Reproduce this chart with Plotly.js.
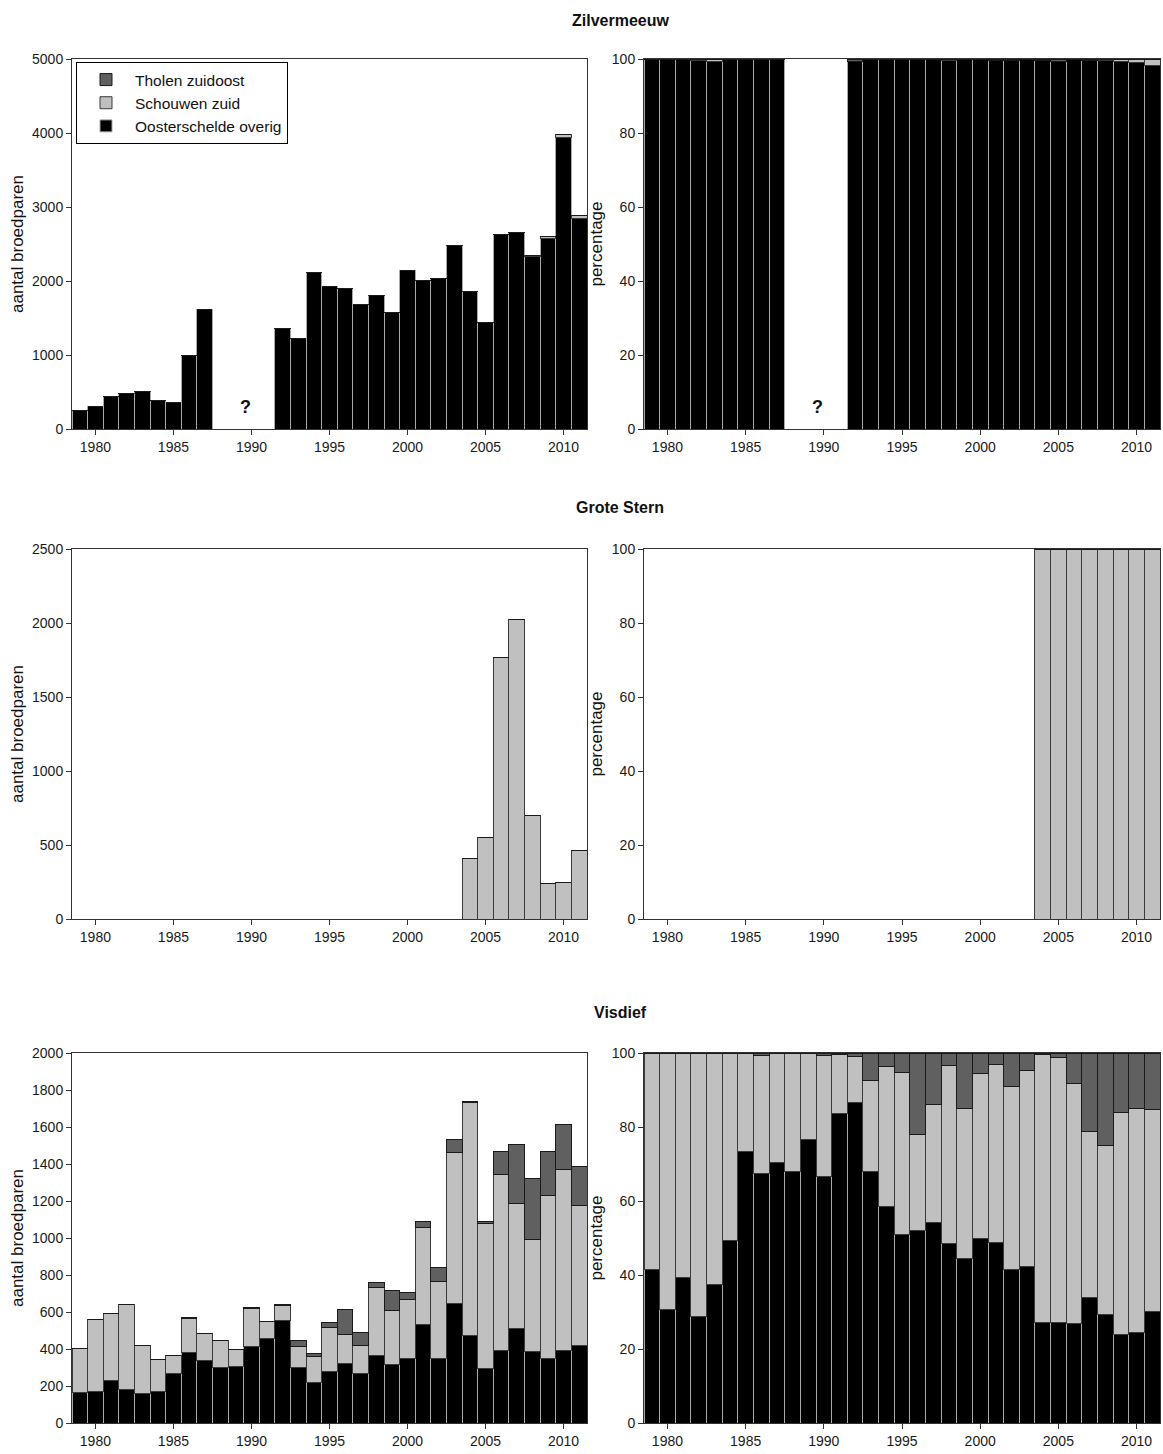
<!DOCTYPE html>
<html>
<head>
<meta charset="utf-8">
<script src="https://cdn.plot.ly/plotly-3.0.1.min.js"></script>
<style>html,body{margin:0;padding:0;background:#fff;}#chart{width:1163px;height:1454px;}</style>
</head>
<body>
<div id="chart"></div>
<script>
// ---------- data ----------
const years = [1979,1980,1981,1982,1983,1984,1985,1986,1987,1988,1989,1990,1991,1992,1993,1994,1995,1996,1997,1998,1999,2000,2001,2002,2003,2004,2005,2006,2007,2008,2009,2010,2011];
const seriesNames = ["Oosterschelde overig", "Schouwen zuid", "Tholen zuidoost"];
const speciesTitles = ["Zilvermeeuw", "Grote Stern", "Visdief"];
const xTickVals = [1980,1985,1990,1995,2000,2005,2010];

// Zilvermeeuw (1988-1991 unknown)
const zilOost   = [250,310,440,475,505,380,360,995,1610,null,null,null,null,1355,1220,2120,1925,1900,1685,1800,1575,2140,2005,2030,2480,1855,1435,2625,2650,2335,2575,3940,2840];
const zilSchouw = [0,0,0,2,3,1,0,0,0,null,null,null,null,0,0,0,0,0,0,8,0,0,0,0,6,0,0,0,0,10,20,35,50];
const zilTholen = [0,0,0,0,0,0,0,0,0,null,null,null,null,8,0,0,0,0,0,0,0,0,8,8,0,6,8,0,8,0,0,0,0];

// Grote Stern
const gsOost   = [0,0,0,0,0,0,0,0,0,0,0,0,0,0,0,0,0,0,0,0,0,0,0,0,0,0,0,0,0,0,0,0,0];
const gsSchouw = [0,0,0,0,0,0,0,0,0,0,0,0,0,0,0,0,0,0,0,0,0,0,0,0,0,410,550,1770,2025,700,240,250,460];
const gsTholen = [0,0,0,0,0,0,0,0,0,0,0,0,0,0,0,0,0,0,0,0,0,0,0,0,0,0,0,0,0,0,0,0,0];

// Visdief
const vdOost   = [167,172,232,183,157,170,266,383,340,302,307,415,458,555,302,220,276,320,265,367,318,350,533,350,647,474,296,393,512,388,350,393,419];
const vdSchouw = [236,390,358,455,262,174,97,182,142,142,93,203,88,80,110,142,239,158,155,365,288,315,522,416,813,1260,780,950,674,602,882,978,756];
const vdTholen = [0,0,0,0,0,0,0,4,0,0,0,5,2,6,33,14,28,136,68,26,108,38,35,75,72,6,14,122,318,330,238,240,213];

// ---------- styling ----------
const fills = ["#000000", "#c0c0c0", "#606060"];
const outlines = ["#a8a8a8", "#3a3a3a", "#1a1a1a"];
const FONT = "Liberation Sans, Arial, sans-serif";
const W = 1163, H = 1454;
const colsPx = [[72, 587], [644, 1160]];
const rowsPx = [[59, 429], [549, 919], [1053, 1423]];
const yMaxLeft = [5000, 2500, 2000];
const yDtickLeft = [1000, 500, 200];

function pctOf(arrs, s) {
  return arrs[s].map((v, i) => {
    const t = (arrs[0][i] || 0) + (arrs[1][i] || 0) + (arrs[2][i] || 0);
    return t > 0 ? v / t * 100 : null;
  });
}

const speciesData = [
  [zilOost, zilSchouw, zilTholen],
  [gsOost, gsSchouw, gsTholen],
  [vdOost, vdSchouw, vdTholen]
];

const traces = [];
const layout = {
  width: W, height: H,
  margin: {l: 0, r: 0, t: 0, b: 0},
  paper_bgcolor: "#fff", plot_bgcolor: "#fff",
  barmode: "stack", bargap: 0,
  font: {family: FONT, color: "#222"},
  showlegend: true,
  legend: {
    x: 76 / W, y: 1 - 62 / H, xanchor: "left", yanchor: "top",
    bordercolor: "#000", borderwidth: 1, bgcolor: "#fff",
    font: {family: FONT, size: 15.5, color: "#111"},
    traceorder: "reversed", tracegroupgap: 0, itemwidth: 48
  },
  annotations: [],
  hovermode: false
};

speciesData.forEach((arrs, r) => {
  for (let c = 0; c < 2; c++) {
    const idx = r * 2 + c + 1;
    const xa = idx === 1 ? "x" : "x" + idx;
    const ya = idx === 1 ? "y" : "y" + idx;
    for (let s = 0; s < 3; s++) {
      traces.push({
        type: "bar",
        x: years,
        y: c === 0 ? arrs[s] : pctOf(arrs, s),
        width: 1,
        xaxis: xa, yaxis: ya,
        name: seriesNames[s],
        showlegend: idx === 1,
        marker: {color: fills[s], line: {color: outlines[s], width: 1}}
      });
    }
    const xKey = idx === 1 ? "xaxis" : "xaxis" + idx;
    const yKey = idx === 1 ? "yaxis" : "yaxis" + idx;
    layout[xKey] = {
      domain: [colsPx[c][0] / W, colsPx[c][1] / W],
      anchor: ya,
      range: [1978.5, 2011.5],
      tickmode: "array", tickvals: xTickVals,
      ticks: "outside", ticklen: 5, tickwidth: 1, tickcolor: "#333",
      showline: true, linecolor: "#333", linewidth: 1, mirror: true,
      showgrid: false, zeroline: false,
      tickfont: {family: FONT, size: 14, color: "#1a1a1a"}
    };
    layout[yKey] = {
      domain: [1 - rowsPx[r][1] / H, 1 - rowsPx[r][0] / H],
      anchor: xa,
      range: c === 0 ? [0, yMaxLeft[r]] : [0, 100],
      dtick: c === 0 ? yDtickLeft[r] : 20,
      tick0: 0,
      ticks: "outside", ticklen: 5, tickwidth: 1, tickcolor: "#333",
      showline: true, linecolor: "#333", linewidth: 1, mirror: true,
      showgrid: false, zeroline: false,
      tickfont: {family: FONT, size: 14, color: "#1a1a1a"},
      title: {text: c === 0 ? "aantal broedparen" : "percentage",
              font: {family: FONT, size: 17, color: "#111"}, standoff: 4}
    };
  }
  layout.annotations.push({
    text: "<b>" + speciesTitles[r] + "</b>",
    xref: "paper", yref: "paper",
    x: 620 / W, y: 1 - [20, 508, 1012][r] / H,
    xanchor: "center", yanchor: "middle", showarrow: false,
    font: {family: FONT, size: 16, color: "#111"}
  });
});

// unknown years marker
layout.annotations.push({text: "<b>?</b>", xref: "x", yref: "y", x: 1989.6, y: 300, showarrow: false,
  font: {family: FONT, size: 18, color: "#111"}});
layout.annotations.push({text: "<b>?</b>", xref: "x2", yref: "y2", x: 1989.6, y: 6, showarrow: false,
  font: {family: FONT, size: 18, color: "#111"}});

Plotly.newPlot("chart", traces, layout, {staticPlot: true, displayModeBar: false});
</script>
</body>
</html>
